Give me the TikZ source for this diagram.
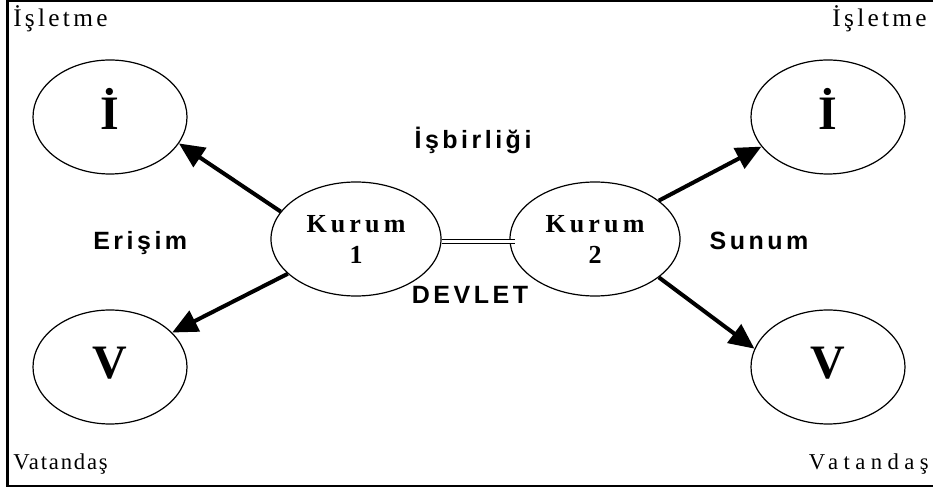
\documentclass[tikz,border=0pt]{standalone}
\usepackage{fontspec}
\setmainfont{Liberation Serif}
\newfontfamily\sanslbl{Liberation Sans}[LetterSpace=14]
\newfontfamily\kurumf{Liberation Serif}[LetterSpace=16]
\newfontfamily\cornerf{Liberation Serif}[LetterSpace=13]
\newfontfamily\cornervl{Liberation Serif}[LetterSpace=8]
\newfontfamily\cornervr{Liberation Serif}[LetterSpace=24]
\usetikzlibrary{arrows.meta,shapes.geometric}
\begin{document}
\begin{tikzpicture}[x=0.75pt,y=-0.75pt,
 oval/.style={draw,ellipse,line width=0.9pt,inner sep=0pt,minimum width=115.5pt,minimum height=85.5pt},
 big/.style={oval,font=\fontsize{36}{38}\selectfont\bfseries},
 kurum/.style={oval,minimum width=127.5pt,align=center,font=\kurumf\fontsize{19.5}{23.25}\selectfont\bfseries},
 arr/.style={line width=3pt,-{Triangle[length=19pt,width=17pt]}},
 lbl/.style={font=\sanslbl\fontsize{18.75}{20}\selectfont\bfseries,inner sep=0pt},
 corner/.style={inner sep=0pt,font=\cornerf\fontsize{19}{21}\selectfont}
]
\useasboundingbox (0,0) rectangle (933,491);
\draw[line width=1.8pt] (933,1) -- (7.5,1) -- (7.5,486) -- (933,486);

\node[big] (i1) at (110,117) {\raisebox{6pt}[\height][\depth]{İ}};
\node[big] (i2) at (828,117) {\raisebox{6pt}[\height][\depth]{İ}};
\node[big] (v1) at (110,367) {\raisebox{3pt}[\height][\depth]{V}};
\node[big] (v2) at (828,367) {\raisebox{3pt}[\height][\depth]{V}};
\node[kurum] (k1) at (356,239) {Kurum\\1};
\node[kurum] (k2) at (595,239) {Kurum\\2};

\draw[arr] (k1.160) -- (i1.-21);
\draw[arr] (k1.207) -- (v1.29);
\draw[arr] (k2.31) -- (i2.204);
\draw[arr] (k2.329) -- (v2.166);
\draw[double,line width=0.8pt,double distance=2.2pt,shorten >=-4pt] ([yshift=-2pt]k1.east) -- ([yshift=-2pt]k2.west);

\node[corner,anchor=base west] (t1) at (13,27) {İşletme};
\node[corner,anchor=base east] (t2) at (927,27) {İşletme};
\node[inner sep=0pt,anchor=base west,font=\cornervl\fontsize{17}{19}\selectfont] (t3) at (13,470) {Vatandaş};
\node[inner sep=0pt,anchor=base east,font=\cornervr\fontsize{17}{19}\selectfont] (t4) at (929,470) {Vatandaş};

\node[lbl,anchor=base] (l1) at (473,149) {İşbirliği};
\node[lbl,anchor=base west] (l2) at (93,250) {Erişim};
\node[lbl,anchor=base] (l3) at (759,250) {Sunum};
\node[lbl,anchor=base] (l4) at (470,304) {DEVLET};
\end{tikzpicture}
\end{document}
